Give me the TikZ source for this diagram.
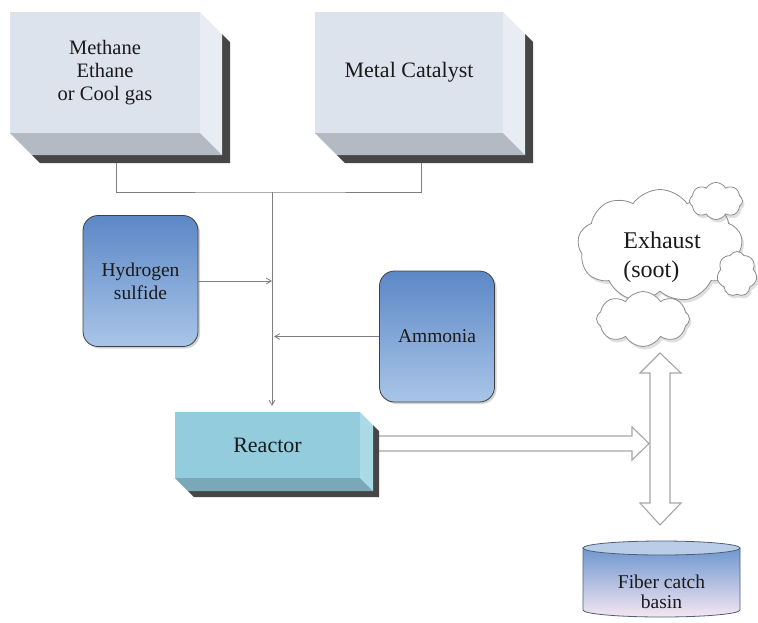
\documentclass[tikz,border=0pt]{standalone}
\usepackage{fontspec}
\setmainfont{Liberation Serif}
\usetikzlibrary{calc,shapes.symbols,shadows,arrows.meta}

\definecolor{frontA}{HTML}{DCE3EC}
\definecolor{sideA}{HTML}{E8EDF3}
\definecolor{bottomA}{HTML}{B3BAC4}
\definecolor{shadowC}{HTML}{464646}
\definecolor{frontR}{HTML}{93CDDD}
\definecolor{sideR}{HTML}{AADAE6}
\definecolor{bottomR}{HTML}{79A9B7}
\definecolor{lineC}{HTML}{7F7F7F}
\definecolor{hollowC}{HTML}{A6A6A6}
\definecolor{blueTop}{HTML}{5C88C6}
\definecolor{blueBot}{HTML}{A9C5E8}
\definecolor{txt}{HTML}{1A1A1A}
\definecolor{cylTop}{HTML}{6E97CF}
\definecolor{cylBot}{HTML}{F5E6F2}
\definecolor{cylCap}{HTML}{B9CDE9}
\definecolor{cylLine}{HTML}{4F6076}
\definecolor{cloudLine}{HTML}{8C8C8C}

\newcommand{\fsz}[2]{\rmfamily\fontsize{#1}{#2}\selectfont}
\newcommand{\boxfaces}[5]{%
  \fill[shadowC] ($(#1.north east)+(#2,#2)$) -- ($(#1.north east)+(#2+#3,#2+#3)$)
     -- ($(#1.south east)+(#2+#3,#2+#3)$) -- ($(#1.south west)+(#2+#3,#2+#3)$)
     -- ($(#1.south west)+(#2,#2)$) -- ($(#1.south east)+(#2,#2)$) -- cycle;
  \fill[#4] (#1.north east) -- ($(#1.north east)+(#2,#2)$) -- ($(#1.south east)+(#2,#2)$) -- (#1.south east) -- cycle;
  \fill[#5] (#1.south west) -- (#1.south east) -- ($(#1.south east)+(#2,#2)$) -- ($(#1.south west)+(#2,#2)$) -- cycle;
}

\tikzset{
  front/.style={rectangle, fill=frontA, outer sep=0pt, inner sep=0pt, text=txt, align=center},
  rbox/.style={rectangle, rounded corners=15pt, draw=black!75, line width=0.8pt,
     top color=blueTop, bottom color=blueBot, minimum width=115pt, minimum height=131pt,
     text=txt, align=center, font=\fsz{19.5}{23},
     drop shadow={opacity=0.35, shadow xshift=2pt, shadow yshift=-2pt}},
  conn/.style={draw=lineC, line width=0.8pt},
  tip/.style={-{Straight Barb[angle=70:5pt, length=5pt]}},
  hollow/.style={draw=hollowC, line width=1.1pt, fill=white},
  puff/.style={cloud, draw=cloudLine, fill=white, line width=0.8pt, inner sep=0pt,
     drop shadow={opacity=0.25, shadow xshift=2pt, shadow yshift=-3pt}},
}

\begin{document}
\begin{tikzpicture}[x=1pt,y=-1pt]
\useasboundingbox (0,0) rectangle (758,622);

% top boxes
\node[front, minimum width=190pt, minimum height=121pt, font=\fsz{20.5}{23}]
  (methane) at (105,72.5) {Methane\\Ethane\\or Cool gas};
\boxfaces{methane}{22}{8}{sideA}{bottomA}

\node[front, minimum width=188pt, minimum height=121pt, font=\fsz{22}{26}]
  (catalyst) at (409,72.5) {Metal Catalyst};
\boxfaces{catalyst}{22}{8}{sideA}{bottomA}

% side reagents
\node[rbox] (h2s) at (140.5,281) {Hydrogen\\sulfide};
\node[rbox] (ammonia) at (437,336.5) {Ammonia};

% reactor
\node[front, fill=frontR, minimum width=185pt, minimum height=66pt, font=\fsz{22}{26}]
  (reactor) at (267.5,445) {Reactor};

% hollow arrow reactor -> double arrow
\filldraw[hollow] (378,436) -- (632,436) -- (632,427) -- (649,443.5) -- (632,460) -- (632,451) -- (378,451);
\boxfaces{reactor}{13}{6}{sideR}{bottomR}

% connectors
\coordinate (mb) at ($(methane.south)+(11,30)$);
\coordinate (cb) at ($(catalyst.south)+(12,30)$);
\coordinate (join) at (272,192);
\draw[conn] (mb) |- (join) -| (cb);
\draw[conn, tip, shorten >=6pt] (join) -- (join |- reactor.north);
\draw[conn, tip] (h2s.east) -- (h2s.east -| join);
\draw[conn, tip] (ammonia.west) -- ($(ammonia.west -| join)+(2,0)$);

% exhaust clouds
\node[puff, cloud puffs=9, cloud puff arc=110, aspect=1.5, minimum width=165pt, minimum height=113pt]
  (exhaust) at (660,246) {};
\node[puff, cloud puffs=8, cloud puff arc=120, aspect=1.4, minimum width=53pt, minimum height=37pt]
  (puffA) at (716,201) {};
\node[puff, cloud puffs=7, cloud puff arc=120, aspect=0.9, minimum width=40pt, minimum height=45pt]
  (puffB) at (737,274) {};
\node[puff, cloud puffs=8, cloud puff arc=120, aspect=1.7, minimum width=93pt, minimum height=55pt]
  (puffC) at (643,319) {};
\node[text=txt, align=left, font=\fsz{24}{29}] (exhausttext) at (662,257) {Exhaust\\(soot)};

% double hollow arrow
\filldraw[hollow] (660,353) -- (681,373) -- (670,373) -- (670,503) -- (681,503) -- (660,525)
  -- (640,503) -- (650,503) -- (650,373) -- (640,373) -- cycle;

% fiber catch basin
\shade[top color=cylTop, bottom color=cylBot, draw=cylLine, line width=0.8pt]
  (583,548) -- (583,610) arc[start angle=180, end angle=360, x radius=78.5pt, y radius=7pt]
  -- (740,548) -- cycle;
\filldraw[fill=cylCap, draw=cylLine, line width=0.8pt] (661.5,548) ellipse [x radius=78.5pt, y radius=7pt];
\node[text=txt, align=center, font=\fsz{19.5}{20}] (basin) at (661.5,592) {Fiber catch\\basin};
\end{tikzpicture}
\end{document}
